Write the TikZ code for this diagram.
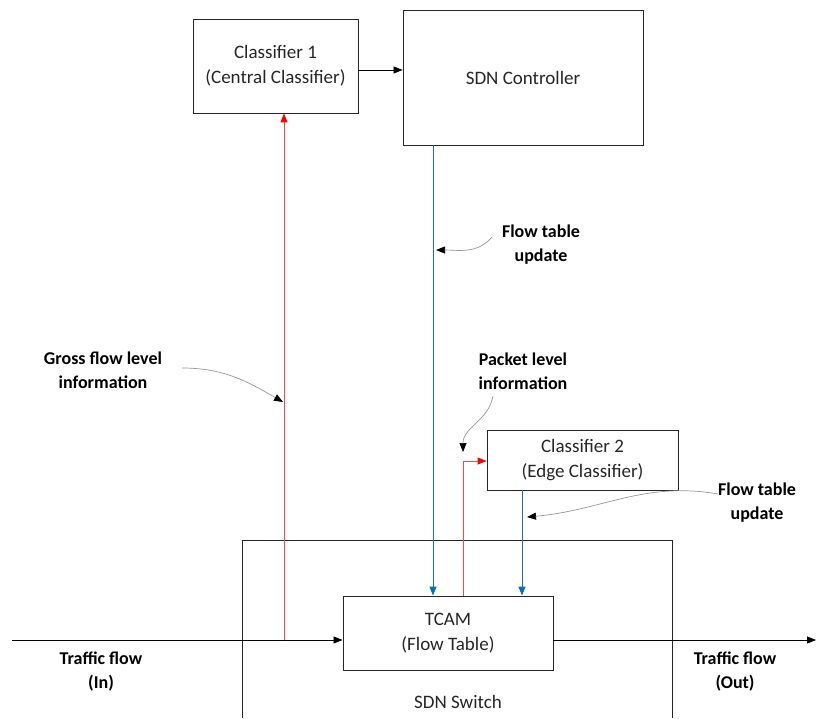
\documentclass[tikz,border=0pt]{standalone}
\usepackage{fontspec}
\setmainfont{Carlito}
\usetikzlibrary{arrows.meta}
\definecolor{offblue}{RGB}{0,112,192}
\definecolor{linkred}{RGB}{255,0,0}
\definecolor{linkpink}{RGB}{255,70,70}
\definecolor{notegray}{RGB}{150,150,150}
\begin{document}
\begin{tikzpicture}[x=1pt,y=-1pt,
  box/.style={draw=black!85,line width=0.9pt,inner sep=0pt},
  boxtext/.style={font=\fontsize{19}{25}\selectfont,align=center,text=black!85},
  note/.style={font=\fontsize{18}{24}\selectfont\bfseries,align=center},
  flow/.style={black,line width=0.8pt,-{Triangle[length=9pt,width=7pt]}},
  redline/.style={color=linkpink,line width=1pt},
  redlink/.style={redline,-{Triangle[length=9pt,width=7pt,fill=linkred,color=linkred]}},
  bluelink/.style={color=offblue!80!gray,line width=0.9pt,-{Triangle[length=9pt,width=7pt,fill=offblue,color=offblue]}},
  pointer/.style={color=notegray,line width=0.7pt,-{Triangle[length=9pt,width=7pt,fill=black,color=black]}}]
\useasboundingbox (0,0) rectangle (816,718);

% boxes
\node[box,minimum width=165pt,minimum height=94pt] (c1) at (275.5,66) {};
\node[boxtext] at (c1.center) {Classifier 1\\(Central Classifier)};
\node[box,minimum width=240pt,minimum height=135pt] (ctl) at (523,77.5) {};
\node[boxtext] at (ctl.center) {SDN Controller};
\node[box,minimum width=191pt,minimum height=60pt] (c2) at (582.5,460) {};
\node[boxtext] at (c2.center) {Classifier 2\\(Edge Classifier)};
\node[box,minimum width=210pt,minimum height=74pt] (tcam) at (448,633) {};
\node[boxtext] at (tcam.center) {TCAM\\(Flow Table)};

% switch enclosure, open at the bottom
\draw[black!85,line width=0.9pt] (242,718) -- (242,540) -- (672,540) -- (672,718);
\node[boxtext] (sw) at (458,702) {SDN Switch};

% traffic flow
\coordinate (inL) at (12,640);
\coordinate (outR) at (816,640);
\coordinate (tap) at (284,640);
\draw[flow] (inL) -- (tcam.west |- inL);
\draw[flow] (tcam.east |- outR) -- (outR);
\node[note] (tin) at (101,672) {Traffic flow\\(In)};
\node[note] (tout) at (735,672) {Traffic flow\\(Out)};

% links
\draw[flow,line width=0.6pt] (c1.east |- 0,70) -- (ctl.west |- 0,70);
\draw[redlink] (tap) -- (c1.south -| tap);
\coordinate (pk) at (463,461);
\draw[redline] (tcam.north -| pk) -- (pk);
\draw[redlink] (pk) -- (c2.west |- pk);
\draw[bluelink] (ctl.south -| 433,0) -- (tcam.north -| 433,0);
\draw[bluelink] (c2.south -| 522,0) -- (tcam.north -| 522,0);

% annotations
\node[note] (n1) at (541,245) {Flow table\\update};
\draw[pointer] (492,237) to[out=-130,in=0] (436,250);
\node[note] (n2) at (103,370) {Gross flow level\\information};
\draw[pointer] (182,368) to[out=0,in=150] (283,402);
\node[note] (n3) at (523,371) {Packet level\\information};
\draw[pointer] (493,396) to[out=-100,in=90] (463,452);
\node[note] (n4) at (757,503) {Flow table\\update};
\draw[pointer] (718,494) to[out=170,in=5] (527,517);
\end{tikzpicture}
\end{document}
